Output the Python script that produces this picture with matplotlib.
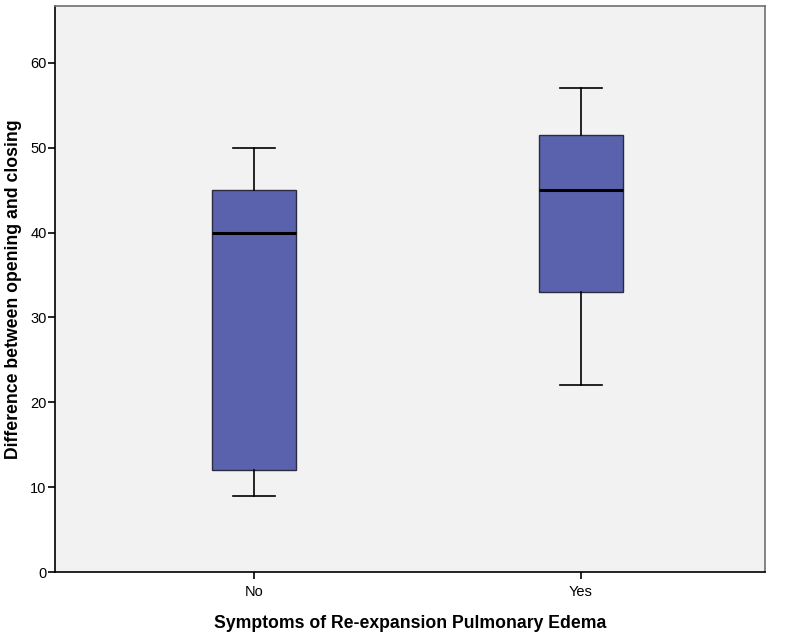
import matplotlib
matplotlib.use('Agg')
import matplotlib.pyplot as plt

# five-number summaries
groups = ['No', 'Yes']
whislo = [9, 22]
q1 = [12, 33]
med = [40, 45]
q3 = [45, 51.5]
whishi = [50, 57]

plt.rcParams['font.family'] = ['Liberation Sans', 'DejaVu Sans']

fig = plt.figure(figsize=(7.87, 6.32), dpi=100)
ax = fig.add_axes([0.0699, 0.0949, 0.902, 0.8956])
ax.set_facecolor('#f2f2f2')

stats = []
for i, g in enumerate(groups):
    stats.append(dict(label=g, whislo=whislo[i], q1=q1[i], med=med[i],
                      q3=q3[i], whishi=whishi[i], fliers=[]))

ax.bxp(stats, positions=[0, 1], widths=0.257, capwidths=0.13,
       patch_artist=True, showfliers=False,
       boxprops=dict(facecolor='#5a62ad', edgecolor='#2a2a40', linewidth=1),
       medianprops=dict(color='black', linewidth=2.2),
       whiskerprops=dict(color='black', linewidth=1.2),
       capprops=dict(color='black', linewidth=1.2))

ax.set_xlim(-0.609, 1.563)
ax.set_ylim(0, 66.7)
ax.set_yticks([0, 10, 20, 30, 40, 50, 60])
ax.set_xticks([0, 1])
ax.set_xticklabels(groups)

ax.tick_params(axis='both', labelsize=10.5, length=5, width=1.2, colors='black')
ax.tick_params(axis='x', pad=4)
ax.tick_params(axis='y', pad=1)

for s in ['left', 'bottom']:
    ax.spines[s].set_color('black')
    ax.spines[s].set_linewidth(1.2)
for s in ['top', 'right']:
    ax.spines[s].set_color('#707070')
    ax.spines[s].set_linewidth(1.2)

ax.set_xlabel('Symptoms of Re-expansion Pulmonary Edema', fontsize=12.7,
              fontweight='bold', labelpad=12)
ax.set_ylabel('Difference between opening and closing', fontsize=12.7,
              fontweight='bold')
ax.yaxis.set_label_coords(-0.047, 0.5)

fig.savefig('out.png', dpi=100, facecolor='white')
